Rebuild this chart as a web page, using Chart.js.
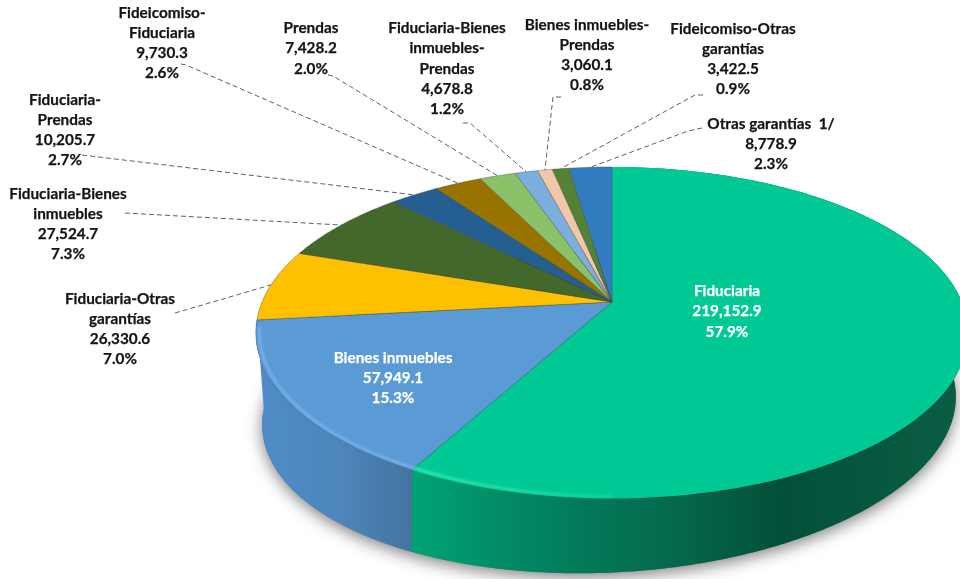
<!DOCTYPE html>
<html>
<head>
<meta charset="utf-8">
<style>
  html, body { margin: 0; padding: 0; background: #fff; }
  canvas { display: block; }
</style>
<script src="https://cdn.jsdelivr.net/npm/chart.js@4"></script>
</head>
<body>
<canvas id="pie" width="960" height="579"></canvas>
<script>
  'use strict';

  var categories = ['Fiduciaria', 'Bienes inmuebles', 'Fiduciaria-Otras garantías', 'Fiduciaria-Bienes inmuebles',
    'Fiduciaria-Prendas', 'Fideicomiso-Fiduciaria', 'Prendas', 'Fiduciaria-Bienes inmuebles-Prendas',
    'Bienes inmuebles-Prendas', 'Fideicomiso-Otras garantías', 'Otras garantías 1/'];
  var amounts = [219152.9, 57949.1, 26330.6, 27524.7, 10205.7, 9730.3, 7428.2, 4678.8, 3060.1, 3422.5, 8778.9];
  var percents = ['57.9%', '15.3%', '7.0%', '7.3%', '2.7%', '2.6%', '2.0%', '1.2%', '0.8%', '0.9%', '2.3%'];
  var colors = ['#00C995', '#5B9BD5', '#FFC000', '#43682B', '#255E91', '#997300', '#8BC168', '#7CAFDD', '#F2C6A8', '#548235', '#327BBF'];

  // how each category name wraps on the picture
  var nameLines = [
    ['Fiduciaria'], ['Bienes inmuebles'], ['Fiduciaria-Otras', 'garantías'], ['Fiduciaria-Bienes', 'inmuebles'],
    ['Fiduciaria-', 'Prendas'], ['Fideicomiso-', 'Fiduciaria'], ['Prendas'], ['Fiduciaria-Bienes', 'inmuebles-', 'Prendas'],
    ['Bienes inmuebles-', 'Prendas'], ['Fideicomiso-Otras', 'garantías'], ['Otras garantías  1/']
  ];

  // label layout: centre x, y of first line, line pitch, leader start points
  var labelLayout = [
    { x: 727, y: 291, dy: 20.5, color: '#fff' },
    { x: 393, y: 358, dy: 20, color: '#fff' },
    { x: 120, y: 299, dy: 20, lead: [[175, 313]] },
    { x: 68, y: 194, dy: 20, lead: [[125, 213]] },
    { x: 65, y: 100, dy: 20, lead: [[82, 155]] },
    { x: 162, y: 13, dy: 20, lead: [[181, 64], [186, 65]] },
    { x: 311, y: 28, dy: 20.5, lead: [[328, 75], [333, 76]] },
    { x: 447, y: 28, dy: 20.3, lead: [[463, 123], [470, 123]] },
    { x: 587, y: 25, dy: 20, lead: [[561, 97], [553, 97]] },
    { x: 733, y: 29, dy: 20, lead: [[703, 95], [695, 95]] },
    { x: 771, y: 124, dy: 20, lead: [[702, 128], [688, 131]] }
  ];

  // projection of the pie disc, apex is not the ellipse centre because of the perspective
  var CX = 612, CY = 302, RX = 350, RY = 160, K = 0.185;
  var DEPTH = 75.5, FOOT = 0.97, FOOT_K = 0.205, FOOT_DX = -3, FOOT_SHEAR = -0.04;

  // gradients of the side wall (only the two front slices show one)
  var wallStops = {
    0: [[415, '#00A273'], [540, '#028260'], [660, '#056B4E'], [780, '#03503A'], [960, '#0A5E44']],
    1: [[255, '#4F8CC8'], [340, '#4D86BC'], [415, '#44729E']]
  };
  var rimColors = { 0: 'rgba(50,235,180,0.9)', 1: '#72B0EE' };

  function pt(a, foot, inset) {
    var x = Math.cos(a), y = Math.sin(a), w = 1 - (foot ? FOOT_K : K) * y;
    var f = foot ? FOOT : (inset || 1);
    var px = RX * x / w * f, py = RY * y / w * f;
    return foot ? [CX + FOOT_DX + px, CY + py + DEPTH + FOOT_SHEAR * px] : [CX + px, CY + py];
  }

  function trace(ctx, a0, a1, foot, move, inset) {
    var n = Math.max(2, Math.ceil(Math.abs(a1 - a0) / 0.01));
    for (var i = 0; i <= n; i++) {
      var p = pt(a0 + (a1 - a0) * i / n, foot, inset);
      if (i === 0 && move) ctx.moveTo(p[0], p[1]); else ctx.lineTo(p[0], p[1]);
    }
  }

  function drawWall(ctx, el, idx) {
    var g = ctx.createLinearGradient(0, 0, 960, 0);
    wallStops[idx].forEach(function (s) { g.addColorStop(s[0] / 960, s[1]); });
    ctx.beginPath();
    trace(ctx, el.startAngle, el.endAngle, false, true);
    trace(ctx, el.endAngle, el.startAngle, true, false);
    ctx.closePath();
    ctx.fillStyle = g;
    ctx.fill();
  }

  var pie3d = {
    id: 'pie3d',
    beforeDatasetsDraw: function (chart) {
      var ctx = chart.ctx;
      var arcs = chart.getDatasetMeta(0).data;
      ctx.save();

      // soft shadow under the foot
      ctx.save();
      ctx.shadowColor = 'rgba(0,0,0,0.5)';
      ctx.shadowBlur = 16;
      ctx.shadowOffsetY = 4;
      ctx.fillStyle = '#777';
      ctx.beginPath();
      trace(ctx, 0, Math.PI * 2, true, true);
      ctx.closePath();
      ctx.fill();
      ctx.restore();

      Object.keys(wallStops).forEach(function (k) { drawWall(ctx, arcs[k], Number(k)); });

      // top faces
      arcs.forEach(function (el, i) {
        ctx.beginPath();
        ctx.moveTo(CX, CY);
        trace(ctx, el.startAngle, el.endAngle, false, false);
        ctx.closePath();
        ctx.fillStyle = el.options.backgroundColor;
        ctx.fill();
        ctx.strokeStyle = i < 1 ? 'rgba(0,0,0,0)' : 'rgba(50,60,50,0.35)';
        ctx.lineWidth = 1;
        ctx.stroke();
      });

      // bevel highlight along the front rim
      ctx.save();
      ctx.filter = 'blur(1px)';
      ctx.lineWidth = 3;
      ctx.beginPath();
      trace(ctx, arcs[1].startAngle, arcs[1].endAngle - 0.04, false, true, 0.99);
      ctx.strokeStyle = rimColors[1];
      ctx.stroke();
      var rim = ctx.createLinearGradient(415, 0, 720, 0);
      rim.addColorStop(0, rimColors[0]);
      rim.addColorStop(1, 'rgba(50,235,180,0)');
      ctx.beginPath();
      trace(ctx, Math.PI * 0.5, arcs[0].endAngle, false, true, 0.99);
      ctx.strokeStyle = rim;
      ctx.stroke();
      ctx.restore();

      // leader lines
      ctx.setLineDash([5, 3]);
      ctx.lineWidth = 1;
      ctx.strokeStyle = '#5f5f5f';
      arcs.forEach(function (el, i) {
        var lead = labelLayout[i].lead;
        if (!lead) return;
        var end = pt((el.startAngle + el.endAngle) / 2, false);
        ctx.beginPath();
        lead.forEach(function (p, j) {
          if (j === 0) ctx.moveTo(p[0], p[1]); else ctx.lineTo(p[0], p[1]);
        });
        ctx.lineTo(end[0], end[1]);
        ctx.stroke();
      });
      ctx.setLineDash([]);

      // labels
      ctx.textAlign = 'center';
      ctx.textBaseline = 'middle';
      ctx.font = 'bold 15.3px Lato, "Open Sans", sans-serif';
      ctx.lineWidth = 0.25;
      categories.forEach(function (c, i) {
        var l = labelLayout[i];
        var lines = nameLines[i].concat([
          amounts[i].toLocaleString('en-US', { minimumFractionDigits: 1, maximumFractionDigits: 1 }),
          percents[i]
        ]);
        ctx.fillStyle = ctx.strokeStyle = l.color || '#141414';
        lines.forEach(function (t, j) {
          ctx.fillText(t, l.x, l.y + j * l.dy);
          ctx.strokeText(t, l.x, l.y + j * l.dy);
        });
      });

      ctx.restore();
      return false;
    }
  };

  new Chart(document.getElementById('pie'), {
    type: 'pie',
    data: {
      labels: categories,
      datasets: [{ data: amounts, backgroundColor: colors, borderWidth: 0 }]
    },
    options: {
      responsive: false,
      animation: false,
      plugins: { legend: { display: false }, tooltip: { enabled: false } }
    },
    plugins: [pie3d]
  });
</script>
</body>
</html>
